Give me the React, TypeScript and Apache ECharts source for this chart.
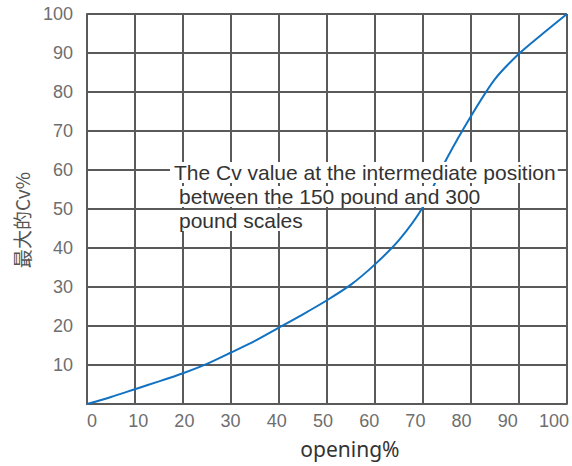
import React, { useEffect, useRef } from "react";
import * as echarts from "echarts";

const openings = [0, 5, 10, 15, 20, 25, 30, 35, 40, 45, 50, 55, 60, 65, 70, 75, 80, 85, 90, 95, 100];
const cvValues = [0, 1.8, 3.8, 5.8, 7.9, 10.3, 13.2, 16.2, 19.6, 23.0, 26.6, 30.6, 35.8, 42.0, 50.5, 63.0, 73.8, 83.3, 89.8, 95.0, 100];
const xTickLabels = [0, 10, 20, 30, 40, 50, 60, 70, 80, 90, 100];
const annotationLines = [
  "The Cv value at the intermediate position",
  "between the 150 pound and 300",
  "pound scales",
];
const xAxisName = "opening%";
const yAxisName = "最大的Cv%";

export default function App() {
  const ref = useRef<HTMLDivElement>(null);
  useEffect(() => {
    if (!ref.current) return;
    const chart = echarts.init(ref.current, null, { renderer: "svg" });
    const gridColor = "#5a5a5a";
    const labelColor = "#6e6e6e";
    const annX = [170, 175, 175];
    const annY = [172.5, 196.5, 220.5];
    chart.setOption({
      animation: false,
      backgroundColor: "#fff",
      grid: { left: 87, right: 4, top: 14, bottom: 62 },
      xAxis: [
        {
          type: "value",
          min: 0,
          max: 100,
          interval: 10,
          position: "bottom",
          axisLine: { show: true, lineStyle: { color: gridColor, width: 2 } },
          axisTick: { show: false },
          axisLabel: { show: false },
          splitLine: { show: true, lineStyle: { color: gridColor, width: 2 } },
          name: xAxisName,
          nameLocation: "middle",
          nameGap: 34,
          nameTextStyle: {
            fontFamily: "Noto Sans",
            fontSize: 21,
            color: "#333",
            padding: [0, 0, 0, 46],
          },
        },
        {
          type: "value",
          min: -1.08,
          max: 102.8,
          position: "bottom",
          axisLine: { show: false },
          axisTick: { show: false },
          splitLine: { show: false },
          axisLabel: {
            show: true,
            customValues: xTickLabels,
            color: labelColor,
            fontFamily: "Liberation Sans, Arial, sans-serif",
            fontSize: 18,
            margin: 8,
          },
        },
      ],
      yAxis: {
        type: "value",
        min: 0,
        max: 100,
        interval: 10,
        axisLine: { show: true, lineStyle: { color: gridColor, width: 2 } },
        axisTick: { show: false },
        splitLine: { show: true, lineStyle: { color: gridColor, width: 2 } },
        axisLabel: {
          color: labelColor,
          fontFamily: "Liberation Sans, Arial, sans-serif",
          fontSize: 18,
          margin: 14,
          padding: [10, 0, 0, 0],
          formatter: (v: number) => (v === 0 ? "" : String(v)),
        },
        name: yAxisName,
        nameLocation: "middle",
        nameGap: 56,
        nameTextStyle: {
          fontFamily: "Noto Sans CJK SC",
          fontSize: 19,
          color: "#555",
          padding: [0, 22, 0, 0],
        },
      },
      series: [
        {
          type: "line",
          xAxisIndex: 0,
          data: openings.map((x, i) => [x, cvValues[i]]),
          smooth: 0.25,
          symbol: "none",
          lineStyle: { color: "#1172c2", width: 2 },
          z: 3,
        },
      ],
      graphic: {
        elements: annotationLines.map((t, i) => ({
          type: "text",
          x: annX[i],
          y: annY[i],
          z: 100,
          style: {
            text: t,
            fontFamily: "Liberation Sans, Arial, sans-serif",
            fontSize: 21,
            fill: "#333",
            verticalAlign: "middle",
            align: "left",
            backgroundColor: "#fff",
            padding: [0, 2, 0, 4],
            lineHeight: 21,
          },
        })),
      },
    });
    return () => chart.dispose();
  }, []);
  return (
    <div
      ref={ref}
      style={{ position: "fixed", left: 0, top: 0, width: 572, height: 466 }}
    />
  );
}
